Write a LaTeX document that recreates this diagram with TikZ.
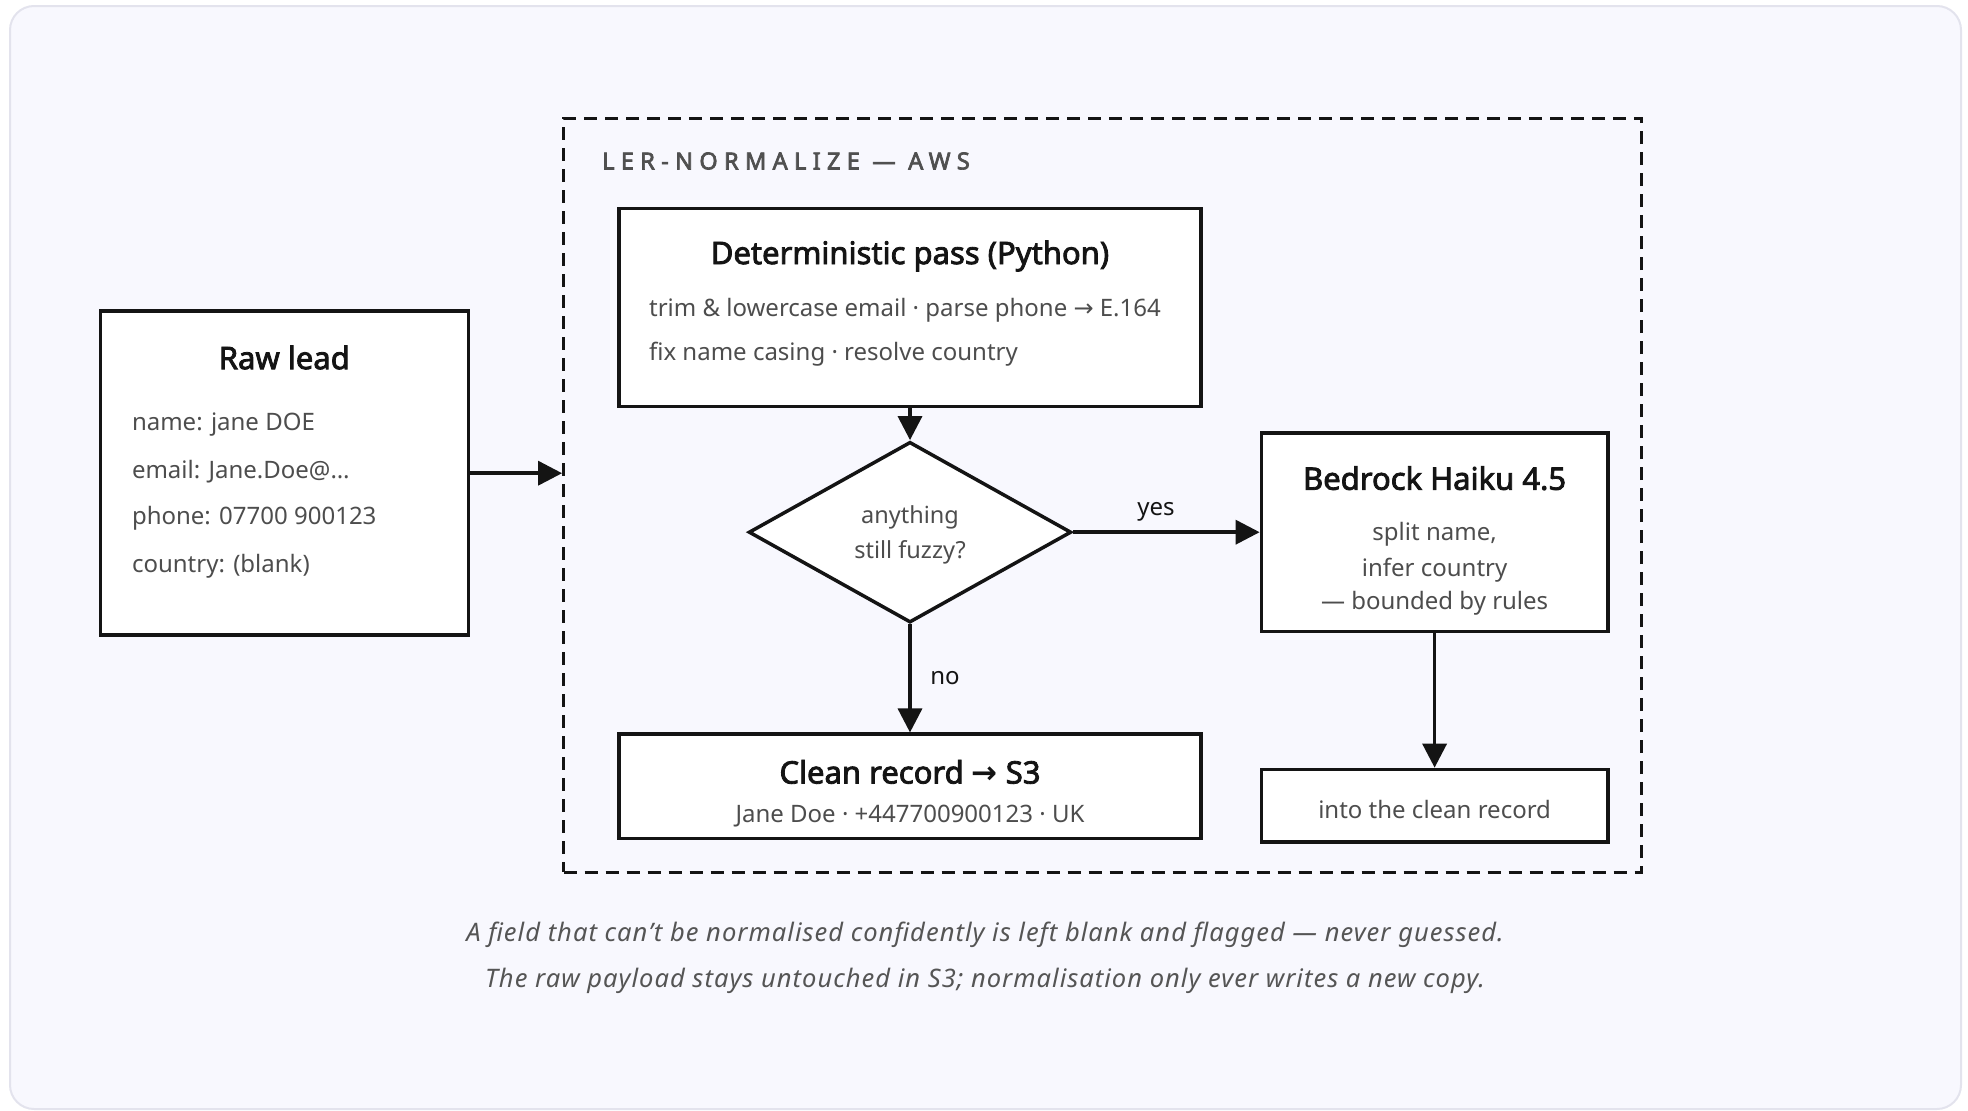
\documentclass[tikz,border=0pt]{standalone}
\usepackage{fontspec}
\setmainfont{Noto Sans}
\newfontfamily\arrowfont{DejaVu Sans}
\newfontfamily\titlefont[FakeBold=2.6]{Noto Sans}
\newfontfamily\hdrfont[FakeBold=3,LetterSpace=27]{Noto Sans}
\newfontfamily\capfont[LetterSpace=4]{Noto Sans}
\usetikzlibrary{arrows.meta,shapes.geometric}
\definecolor{panelfill}{HTML}{F8F8FE}
\definecolor{panelline}{HTML}{E3E3ED}
\definecolor{ink}{HTML}{141414}
\definecolor{bodyc}{HTML}{4D4D4D}
\definecolor{hdr}{HTML}{505050}
\definecolor{capc}{HTML}{555555}
\newcommand{\rarr}{{\arrowfont →}}
\newcommand{\rarrb}{{\arrowfont\bfseries →}}
\tikzset{
  box/.style={draw=ink, line width=3.5pt, fill=white, inner sep=0pt},
  awsbox/.style={draw=ink, line width=3pt, dash pattern=on 13pt off 8pt, inner sep=0pt},
  diam/.style={draw=ink, line width=3.5pt, fill=white, shape=diamond, inner sep=0pt},
  ttl/.style={text=ink, font=\fontsize{31}{37}\selectfont\titlefont, inner sep=0pt},
  bodytxt/.style={text=bodyc, font=\fontsize{24}{29}\selectfont, inner sep=0pt},
  lbl/.style={text=ink, font=\fontsize{24}{29}\selectfont, inner sep=0pt},
  captxt/.style={text=capc, font=\fontsize{25.5}{30}\selectfont\capfont\itshape, inner sep=0pt},
  conn/.style={draw=ink, line width=3.5pt, -{Triangle[length=24pt,width=24pt]}}
}
\begin{document}
\begin{tikzpicture}[x=1pt,y=-1pt]
\useasboundingbox (0,0) rectangle (1968,1111);
\draw[panelline, fill=panelfill, line width=2pt, rounded corners=24pt] (10,6) rectangle (1961,1109);

% container
\node[awsbox, minimum width=1078pt, minimum height=754pt] (aws) at (1102.6,495.2) {};
\node[anchor=west, text=hdr, font=\fontsize{23.5}{27}\selectfont\hdrfont, inner sep=0pt] (hdr) at (602,161) {LER-NORMALIZE — AWS};

% raw lead
\node[box, minimum width=368pt, minimum height=324pt] (raw) at (284.3,473.2) {};
\node[ttl] (rawt) at (284.3,357.5) {Raw lead};
\node[bodytxt, anchor=west] (raw1) at (131.8,424.3) {name: jane DOE};
\node[bodytxt, anchor=west] (raw2) at (131.8,472) {email: Jane.Doe@…};
\node[bodytxt, anchor=west] (raw3) at (131.8,518.4) {phone: 07700 900123};
\node[bodytxt, anchor=west] (raw4) at (131.8,566.1) {country: (blank)};

% deterministic
\node[box, minimum width=582pt, minimum height=198pt] (det) at (910,307.5) {};
\node[ttl] (dett) at (910,256) {Deterministic pass (Python)};
\node[bodytxt, anchor=west] (det1) at (648.9,310) {trim \& lowercase email · parse phone \rarr{} E.164};
\node[bodytxt, anchor=west] (det2) at (648.9,353.9) {fix name casing · resolve country};

% diamond
\node[diam, minimum width=322.6pt, minimum height=180.7pt] (dia) at (910,532.2) {};
\node[bodytxt, align=center, font=\fontsize{23.5}{35}\selectfont] (diat) at (910,535) {anything\\still fuzzy?};

% bedrock
\node[box, minimum width=346.4pt, minimum height=198.3pt] (bed) at (1434.6,532.2) {};
\node[ttl] (bedt) at (1434.6,478.2) {Bedrock Haiku 4.5};
\node[bodytxt] (bed1) at (1434.6,534.7) {split name,};
\node[bodytxt] (bed2) at (1434.6,569.8) {infer country};
\node[bodytxt] (bed3) at (1434.6,603.7) {— bounded by rules};

% clean
\node[box, minimum width=582pt, minimum height=104.2pt] (clean) at (910,786.3) {};
\node[ttl] (cleant) at (910,771.9) {Clean record \rarrb{} S3};
\node[bodytxt] (clean1) at (910,815.8) {Jane Doe · +447700900123 · UK};

% into
\node[box, minimum width=346.4pt, minimum height=72.8pt] (into) at (1434.6,805.8) {};
\node[bodytxt] (intot) at (1434.6,809.5) {into the clean record};

% connectors
\draw[conn] (raw.east) -- (aws.west |- raw.east);
\draw[conn] (det.south) -- (dia.north);
\draw[conn] (dia.east) -- (bed.west);
\node[lbl] (yes) at (1156,512) {yes};
\draw[conn] (dia.south) -- (clean.north);
\node[lbl] (no) at (945,677.7) {no};
\draw[conn] (bed.south) -- (into.north);

% captions
\node[captxt] (cap1) at (985,934.5) {A field that can’t be normalised confidently is left blank and flagged — never guessed.};
\node[captxt] (cap2) at (985,981) {The raw payload stays untouched in S3; normalisation only ever writes a new copy.};
\end{tikzpicture}
\end{document}
